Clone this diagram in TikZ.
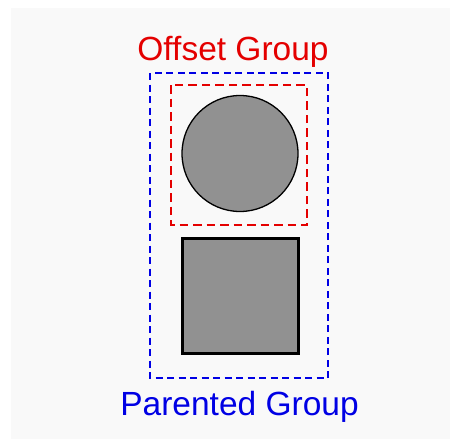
\documentclass[tikz,border=0pt]{standalone}
\usepackage{fontspec}
\setmainfont{Liberation Sans}
\definecolor{bgc}{RGB}{249,249,249}
\definecolor{grp}{RGB}{228,0,0}
\definecolor{grb}{RGB}{0,0,228}
\definecolor{shapefill}{RGB}{145,145,145}
\begin{document}
\begin{tikzpicture}[x=1pt,y=-1pt,
  bluebox/.style={draw=grb,line width=2.2pt,dash pattern=on 7pt off 4.5pt},
  redbox/.style={draw=grp,line width=2.6pt,dash pattern=on 8.5pt off 5pt},
  shapestyle/.style={draw=black,fill=shapefill},
  lbl/.style={font=\fontsize{33.5}{36}\selectfont,inner sep=0pt,anchor=base}]
\useasboundingbox (0,0) rectangle (450,439);
\fill[bgc] (11,8) rectangle (450,439);
\draw[bluebox] (150,73) rectangle (328,378);
\draw[redbox] (171,85) rectangle (307,225);
\node[shapestyle,circle,minimum size=116pt,inner sep=0pt,line width=1.3pt] (circ) at (240,153.5) {};
\node[shapestyle,rectangle,minimum width=116pt,minimum height=115pt,inner sep=0pt,line width=2.2pt] (sq) at (240.5,296) {};
\node[lbl,text=grp] (offset) at (233,60) {Offset Group};
\node[lbl,text=grb] (parented) at (239.5,415) {Parented Group};
\end{tikzpicture}
\end{document}
